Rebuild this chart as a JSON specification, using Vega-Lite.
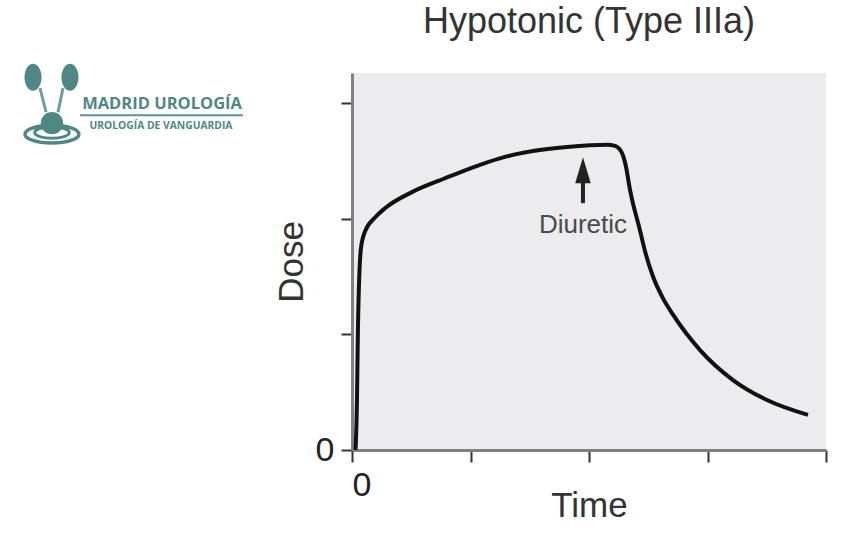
{
  "$schema": "https://vega.github.io/schema/vega-lite/v6.json",
  "autosize": {"type": "none"},
  "width": 474,
  "height": 377,
  "padding": {"left": 352, "top": 73, "right": 32, "bottom": 88},
  "background": "white",
  "config": {
    "view": {"fill": "#ececee", "stroke": null},
    "font": "Liberation Sans"
  },
  "title": {
    "text": "Hypotonic (Type IIIa)",
    "fontSize": 36,
    "font": "Liberation Sans",
    "fontWeight": "normal",
    "color": "#333333",
    "anchor": "middle",
    "baseline": "alphabetic",
    "offset": -5
  },
  "datasets": {
    "curve": [
      {"time": 0.03, "dose": 0.0},
      {"time": 0.042, "dose": 0.43},
      {"time": 0.05, "dose": 1.04},
      {"time": 0.075, "dose": 1.74},
      {"time": 0.11, "dose": 1.89},
      {"time": 0.194, "dose": 2.01},
      {"time": 0.278, "dose": 2.09},
      {"time": 0.506, "dose": 2.23},
      {"time": 0.785, "dose": 2.35},
      {"time": 1.063, "dose": 2.46},
      {"time": 1.291, "dose": 2.535},
      {"time": 1.527, "dose": 2.585},
      {"time": 1.814, "dose": 2.62},
      {"time": 2.152, "dose": 2.64},
      {"time": 2.22, "dose": 2.63},
      {"time": 2.278, "dose": 2.57},
      {"time": 2.31, "dose": 2.46},
      {"time": 2.346, "dose": 2.25},
      {"time": 2.43, "dose": 1.9},
      {"time": 2.47, "dose": 1.73},
      {"time": 2.54, "dose": 1.5},
      {"time": 2.62, "dose": 1.32},
      {"time": 2.709, "dose": 1.17},
      {"time": 2.937, "dose": 0.864},
      {"time": 3.215, "dose": 0.605},
      {"time": 3.502, "dose": 0.432},
      {"time": 3.848, "dose": 0.303}
    ],
    "arrow": [{"time": 1.949, "from": 2.135, "to": 2.35, "head": 2.42, "label": "Diuretic", "labelY": 1.945}],
    "logoMain": [{"time": -1.603, "dose": 2.947, "text": "MADRID UROLOGÍA"}],
    "logoSub": [{"time": -1.612, "dose": 2.774, "text": "UROLOGÍA DE VANGUARDIA"}],
    "logoLine": [{"time": -2.295, "time2": -0.92, "dose": 2.895}],
    "logoUreters": [
      {"time": -2.633, "time2": -2.582, "dose": 3.129, "dose2": 2.921},
      {"time": -2.439, "time2": -2.481, "dose": 3.129, "dose2": 2.921}
    ],
    "logoKidneys": [
      {"time": -2.692, "dose": 3.224},
      {"time": -2.38, "dose": 3.224}
    ],
    "logoBladder": [{"time": -2.532, "dose": 2.826}],
    "logoOuterRing": [{"time": -2.532, "dose": 2.731}],
    "logoInnerRing": [{"time": -2.532, "dose": 2.745}]
  },
  "layer": [
    {
      "data": {"name": "curve"},
      "mark": {"type": "line", "interpolate": "monotone", "color": "#111111", "strokeWidth": 4, "clip": true},
      "encoding": {
        "x": {
          "field": "time", "type": "quantitative",
          "scale": {"domain": [0, 4], "nice": false, "zero": false},
          "axis": {
            "values": [0, 1, 2, 3, 4],
            "labelExpr": "datum.value == 0 ? '0' : ''",
            "grid": false,
            "domainColor": "#808080", "domainWidth": 3,
            "tickColor": "#333333", "tickWidth": 2, "tickSize": 12,
            "labelFontSize": 34, "labelColor": "#222222", "labelPadding": 6,
            "title": "Time", "titleFontSize": 35, "titleFontWeight": "normal",
            "titleColor": "#333333", "titlePadding": -14
          }
        },
        "y": {
          "field": "dose", "type": "quantitative",
          "scale": {"domain": [0, 3.26], "nice": false, "zero": false},
          "axis": {
            "values": [0, 1, 2, 3],
            "labelExpr": "datum.value == 0 ? '0' : ''",
            "grid": false,
            "domainColor": "#808080", "domainWidth": 3,
            "tickColor": "#333333", "tickWidth": 2, "tickSize": 11,
            "labelFontSize": 34, "labelColor": "#222222", "labelPadding": 7,
            "title": "Dose", "titleFontSize": 35, "titleFontWeight": "normal",
            "titleColor": "#333333", "titlePadding": 6
          }
        }
      }
    },
    {
      "data": {"name": "arrow"},
      "mark": {"type": "rule", "color": "#222222", "strokeWidth": 4},
      "encoding": {
        "x": {"field": "time", "type": "quantitative"},
        "y": {"field": "from", "type": "quantitative"},
        "y2": {"field": "to"}
      }
    },
    {
      "data": {"name": "arrow"},
      "mark": {"type": "point", "shape": "M-0.6,1L0.6,1L0,-1Z", "size": 676, "filled": true, "color": "#222222", "opacity": 1},
      "encoding": {
        "x": {"field": "time", "type": "quantitative"},
        "y": {"field": "head", "type": "quantitative"}
      }
    },
    {
      "data": {"name": "arrow"},
      "mark": {"type": "text", "fontSize": 26, "color": "#4a4a4a", "baseline": "middle", "align": "center"},
      "encoding": {
        "x": {"field": "time", "type": "quantitative"},
        "y": {"field": "labelY", "type": "quantitative"},
        "text": {"field": "label"}
      }
    },
    {
      "data": {"name": "logoMain"},
      "mark": {"type": "text", "font": "Open Sans", "fontWeight": "bold", "fontSize": 16.5, "color": "#4f8785", "baseline": "alphabetic", "align": "center"},
      "encoding": {
        "x": {"field": "time", "type": "quantitative"},
        "y": {"field": "dose", "type": "quantitative"},
        "text": {"field": "text"}
      }
    },
    {
      "data": {"name": "logoSub"},
      "mark": {"type": "text", "font": "Open Sans", "fontWeight": "bold", "fontSize": 10.3, "color": "#4f8785", "baseline": "alphabetic", "align": "center"},
      "encoding": {
        "x": {"field": "time", "type": "quantitative"},
        "y": {"field": "dose", "type": "quantitative"},
        "text": {"field": "text"}
      }
    },
    {
      "data": {"name": "logoLine"},
      "mark": {"type": "rule", "color": "#5f9391", "strokeWidth": 2},
      "encoding": {
        "x": {"field": "time", "type": "quantitative"},
        "x2": {"field": "time2"},
        "y": {"field": "dose", "type": "quantitative"}
      }
    },
    {
      "data": {"name": "logoUreters"},
      "mark": {"type": "rule", "color": "#6f9e9c", "strokeWidth": 3},
      "encoding": {
        "x": {"field": "time", "type": "quantitative"},
        "x2": {"field": "time2"},
        "y": {"field": "dose", "type": "quantitative"},
        "y2": {"field": "dose2"}
      }
    },
    {
      "data": {"name": "logoKidneys"},
      "mark": {"type": "point", "shape": "M-0.63,0A0.63,1,0,1,0,0.63,0A0.63,1,0,1,0,-0.63,0Z", "size": 729, "filled": true, "color": "#4f8785", "opacity": 1},
      "encoding": {
        "x": {"field": "time", "type": "quantitative"},
        "y": {"field": "dose", "type": "quantitative"}
      }
    },
    {
      "data": {"name": "logoBladder"},
      "mark": {"type": "point", "shape": "circle", "size": 500, "filled": true, "color": "#4f8785", "opacity": 1},
      "encoding": {
        "x": {"field": "time", "type": "quantitative"},
        "y": {"field": "dose", "type": "quantitative"}
      }
    },
    {
      "data": {"name": "logoOuterRing"},
      "mark": {"type": "point", "shape": "M-1,0A1,0.33,0,1,0,1,0A1,0.33,0,1,0,-1,0Z", "size": 2900, "filled": false, "strokeWidth": 3.5, "color": "#4f8785", "opacity": 1},
      "encoding": {
        "x": {"field": "time", "type": "quantitative"},
        "y": {"field": "dose", "type": "quantitative"}
      }
    },
    {
      "data": {"name": "logoInnerRing"},
      "mark": {"type": "point", "shape": "M-1,0A1,0.33,0,1,0,1,0A1,0.33,0,1,0,-1,0Z", "size": 1200, "filled": false, "strokeWidth": 3, "color": "#4f8785", "opacity": 1},
      "encoding": {
        "x": {"field": "time", "type": "quantitative"},
        "y": {"field": "dose", "type": "quantitative"}
      }
    }
  ]
}
